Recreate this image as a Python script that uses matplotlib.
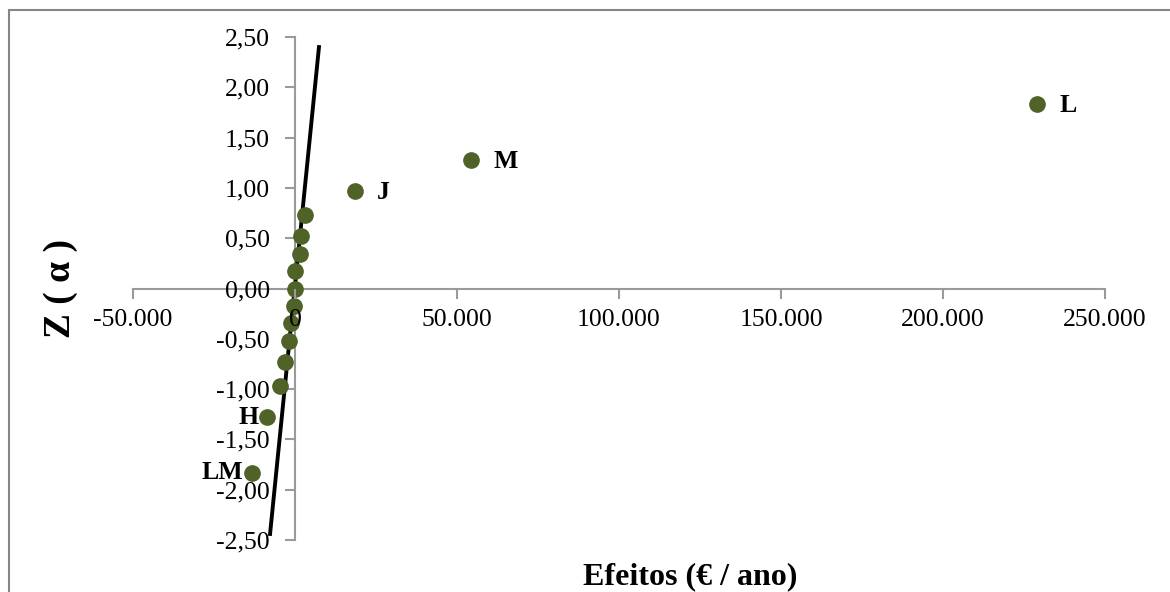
import matplotlib
matplotlib.use("Agg")
from matplotlib import pyplot as plt
from matplotlib.patches import Rectangle
from matplotlib.ticker import FuncFormatter

# effects (EUR/year) and normal scores
efeitos = [-13300, -8600, -4600, -3100, -1850, -1200, -300, 0, 0, 1500, 1850, 3100, 18500, 54300, 229000]
z = [-1.83, -1.28, -0.97, -0.73, -0.52, -0.34, -0.17, 0.00, 0.17, 0.34, 0.52, 0.73, 0.97, 1.28, 1.83]
nomes = ["LM", "H", "", "", "", "", "", "", "", "", "", "", "J", "M", "L"]

# reference line
linha_x = [-7700, 7400]
linha_y = [-2.44, 2.40]

plt.rcParams["font.family"] = ["Liberation Serif", "DejaVu Serif"]

fig = plt.figure(figsize=(11.7, 5.92), dpi=100)
fig.patches.append(Rectangle((9 / 1170, -0.1), 1.2, 1 - 10 / 592 + 0.1, transform=fig.transFigure,
                             fill=False, edgecolor="#868686", linewidth=1.5))
ax = fig.add_axes([133 / 1170, 1 - 540 / 592, (1105 - 133) / 1170, (540 - 37) / 592])

ax.plot(linha_x, linha_y, color="black", linewidth=2.8, zorder=2)
ax.plot(efeitos, z, "o", color="#4F6228", markersize=11, zorder=3)

for xv, yv, n in zip(efeitos, z, nomes):
    if not n:
        continue
    if xv < 0:
        ax.annotate(n, (xv, yv), xytext=(-6, 0), textcoords="offset points",
                    ha="right", va="center", fontsize=18.5, fontweight="bold", zorder=2)
    else:
        ax.annotate(n, (xv, yv), xytext=(16, -1), textcoords="offset points",
                    ha="left", va="center", fontsize=18.5, fontweight="bold")

ax.set_xlim(-50000, 250000)
ax.set_ylim(-2.5, 2.5)
ax.set_xticks(range(-50000, 250001, 50000))
ax.set_yticks([-2.5 + 0.5 * i for i in range(11)])
ax.xaxis.set_major_formatter(FuncFormatter(lambda v, p: f"{v:,.0f}".replace(",", ".")))
ax.yaxis.set_major_formatter(FuncFormatter(lambda v, p: f"{v:.2f}".replace(".", ",")))

ax.spines["left"].set_position(("data", 0))
ax.spines["bottom"].set_position(("data", 0))
ax.spines["top"].set_visible(False)
ax.spines["right"].set_visible(False)
for s in ["left", "bottom"]:
    ax.spines[s].set_color("#9a9a9a")
    ax.spines[s].set_linewidth(1.5)
    ax.spines[s].set_zorder(1)
ax.tick_params(axis="both", colors="#9a9a9a", length=7, width=1.5, labelcolor="black", labelsize=18.5)
ax.tick_params(axis="x", direction="out", pad=8)
ax.tick_params(axis="y", direction="out", pad=11)
ax.xaxis.set_zorder(4)
ax.yaxis.set_zorder(1)

fig.text(690 / 1170, 1 - 577 / 592, "Efeitos (€ / ano)", ha="center", va="center",
         fontsize=23, fontweight="bold")
fig.text(61 / 1170, 1 - 288 / 592, "Z ( α )", ha="center", va="center", rotation=90,
         fontsize=27, fontweight="bold")

fig.savefig("out.png", dpi=100)
